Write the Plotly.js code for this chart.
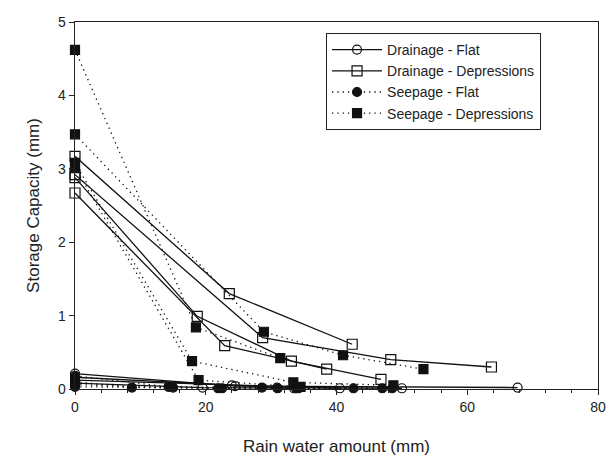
<!DOCTYPE html>
<html>
<head>
<meta charset="utf-8">
<script src="https://cdn.plot.ly/plotly-3.0.1.min.js"></script>
<style>html,body{margin:0;padding:0;background:#fff;}#chart{width:612px;height:463px;}</style>
</head>
<body>
<div id="chart"></div>
<script>
// Drainage - Flat (open circles, solid)
const drainFlatX = [[0, 24.5, 67.7], [0, 30.9, 50.0], [0, 24.0, 40.5], [0, 19.5, 33.5]];
const drainFlatY = [[0.21, 0.04, 0.02], [0.16, 0.02, 0.01], [0.12, 0.05, 0.01], [0.08, 0.02, 0.01]];
// Drainage - Depressions (open squares, solid)
const drainDepX = [[0, 23.6, 42.4], [0, 28.7, 48.3, 63.7], [0, 18.7, 33.1, 46.8], [0, 22.9, 38.5]];
const drainDepY = [[3.17, 1.30, 0.61], [2.92, 0.70, 0.40, 0.30], [2.88, 0.99, 0.38, 0.13], [2.67, 0.59, 0.27]];
// Seepage - Flat (filled circles, dotted)
const seepFlatX = [[0, 14.3, 28.6, 42.6], [0, 8.7, 21.9, 34.2], [0, 15.0, 31.0, 47.0], [0, 22.5, 33.8, 48.5]];
const seepFlatY = [[0.18, 0.03, 0.02, 0.01], [0.10, 0.02, 0.01, 0.01], [0.06, 0.02, 0.01, 0.01], [0.03, 0.01, 0.01, 0.01]];
// Seepage - Depressions (filled squares, dotted)
const seepDepX = [[0, 18.5, 31.4], [0, 28.9, 41.0, 53.3], [0, 17.9, 33.4, 48.7], [0, 18.9, 34.5]];
const seepDepY = [[4.62, 0.84, 0.42], [3.47, 0.78, 0.46, 0.27], [3.08, 0.38, 0.09, 0.05], [3.02, 0.12, 0.03]];

const seriesNames = ["Drainage - Flat", "Drainage - Depressions", "Seepage - Flat", "Seepage - Depressions"];
const xTicks = [0, 20, 40, 60, 80];
const yTicks = [0, 1, 2, 3, 4, 5];

const groups = [
  {name: seriesNames[0], xs: drainFlatX, ys: drainFlatY, dash: "solid", symbol: "circle-open", size: 9},
  {name: seriesNames[1], xs: drainDepX, ys: drainDepY, dash: "solid", symbol: "square-open", size: 10},
  {name: seriesNames[2], xs: seepFlatX, ys: seepFlatY, dash: "1.3px,4px", symbol: "circle", size: 9},
  {name: seriesNames[3], xs: seepDepX, ys: seepDepY, dash: "1.3px,4px", symbol: "square", size: 9}
];

const traces = [];
groups.forEach(function (g, gi) {
  g.xs.forEach(function (xv, i) {
    traces.push({
      type: "scatter", mode: "lines+markers",
      x: xv, y: g.ys[i],
      name: g.name, legendgroup: "g" + gi, showlegend: i === 0,
      line: {color: "#111", width: 1.3, dash: g.dash},
      marker: {symbol: g.symbol, size: g.size, color: "#111", line: {color: "#111", width: 1.2}},
      cliponaxis: false
    });
  });
});

const font = "Liberation Sans, Arial, sans-serif";
const layout = {
  width: 612, height: 463,
  margin: {l: 75, r: 14, t: 22, b: 74},
  paper_bgcolor: "#fff", plot_bgcolor: "#fff",
  font: {family: font, size: 14, color: "#222"},
  showlegend: true,
  legend: {
    x: 0.48, y: 0.97, xanchor: "left", yanchor: "top",
    bordercolor: "#222", borderwidth: 1, bgcolor: "#fff",
    font: {family: font, size: 14, color: "#222"},
    tracegroupgap: 0, itemwidth: 50
  },
  xaxis: {
    range: [0, 80], tickvals: xTicks, ticktext: xTicks.map(String),
    ticks: "outside", ticklen: 5, tickwidth: 1, tickcolor: "#222",
    minor: {dtick: 4, ticks: "outside", ticklen: 3, tickcolor: "#222", showgrid: false},
    showline: true, linecolor: "#222", linewidth: 1.3, mirror: true,
    showgrid: false, zeroline: false,
    tickfont: {size: 14},
    title: {text: "Rain water amount (mm)", font: {size: 17}, standoff: 26}
  },
  yaxis: {
    range: [0, 5], tickvals: yTicks, ticktext: yTicks.map(String),
    ticks: "outside", ticklen: 5, tickwidth: 1, tickcolor: "#222",
    showline: true, linecolor: "#222", linewidth: 1.3, mirror: true,
    showgrid: false, zeroline: false,
    tickfont: {size: 14},
    title: {text: "Storage Capacity (mm)", font: {size: 17}, standoff: 14}
  }
};

Plotly.newPlot("chart", traces, layout, {staticPlot: true, displayModeBar: false});
</script>
</body>
</html>
